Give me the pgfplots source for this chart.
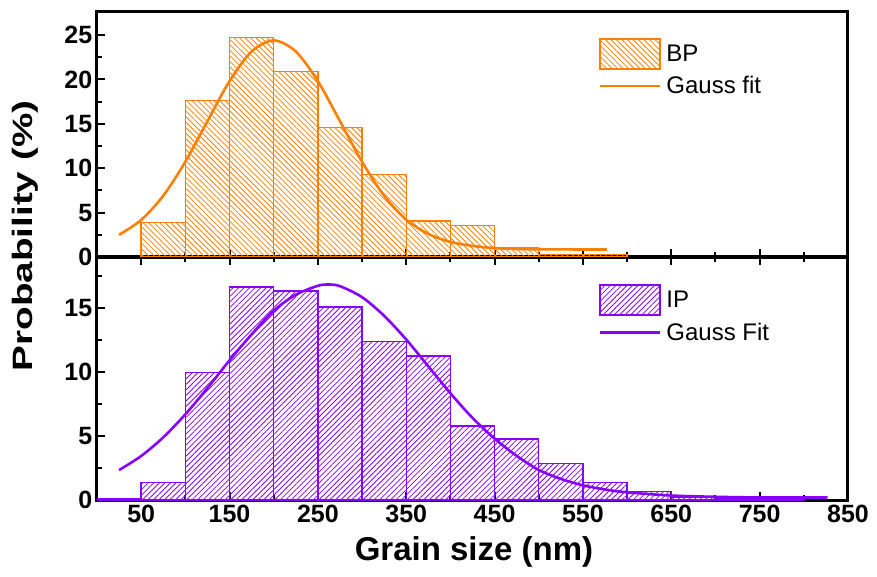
\documentclass[border=0pt]{standalone}
\usepackage{fontspec}
\setmainfont{Liberation Sans}
\usepackage{graphicx}
\usepackage{pgfplots}
\pgfplotsset{compat=1.18}
\usetikzlibrary{patterns.meta}
\definecolor{bporange}{RGB}{255,128,0}
\definecolor{ippurple}{RGB}{136,0,255}

\pgfplotstableread{
x y
50 3.9
100 17.6
150 24.7
200 20.9
250 14.6
300 9.27
350 4.05
400 3.55
450 1.0
500 0.3
550 0.3
600 0.3
}\bphist

\pgfplotstableread{
x y
25 2.5
50 4.17
75 6.9
100 10.73
125 15.3
150 19.81
175 23.15
200 24.4
225 23.15
250 19.81
275 15.3
300 10.73
325 6.9
350 4.2
375 2.6
400 1.7
425 1.25
450 1.0
475 0.9
500 0.87
540 0.85
577 0.85
}\bpfit

\pgfplotstableread{
x y
0 0.1
50 1.38
100 9.95
150 16.67
200 16.35
250 15.1
300 12.37
350 11.25
400 5.8
450 4.77
500 2.86
550 1.38
600 0.65
650 0.2
700 0.1
750 0.1
800 0.1
}\iphist

\pgfplotstableread{
x y
25 2.34
50 3.44
75 4.9
100 6.7
125 8.75
150 10.92
175 12.95
200 14.8
225 16.05
250 16.75
262 16.85
275 16.72
300 15.86
325 14.4
350 12.55
375 10.45
400 8.35
425 6.42
450 4.8
475 3.45
500 2.35
525 1.65
550 1.15
575 0.82
600 0.6
650 0.35
700 0.25
750 0.2
827 0.2
}\ipfit

\pgfplotsset{
  common/.style={
    scale only axis,
    width=751pt,
    xmin=0, xmax=850,
    xtick={50,150,...,850},
    minor xtick={100,200,...,800},
    line width=3pt,
    axis line style={line width=3pt},
    every tick/.style={black, line width=2pt},
    major tick length=8pt, minor tick length=5pt,
    tick align=inside,
    ytick pos=left,
    /pgf/number format/assume math mode=true,
    ticklabel style={font=\fontsize{25}{25}\selectfont\bfseries},
    legend cell align=left,
    legend style={draw=none, fill=none, inner sep=0pt,
      font=\fontsize{24}{28}\selectfont, anchor=north west, row sep=5pt,
      nodes={inner xsep=5pt}},
  },
  histleg/.style={legend image code/.code={\draw[##1, line width=1.6pt] (0pt,-15pt) rectangle (60pt,15pt);}},
  lineleg/.style={legend image code/.code={\draw[##1, line width=2.8pt] (0pt,0pt) -- (60pt,0pt);}},
}

\begin{document}
\begin{tikzpicture}
\useasboundingbox (-97pt,-76pt) rectangle (780pt,500pt);

% bottom panel (IP)
\begin{axis}[common,
  at={(0pt,0pt)}, height=243pt,
  xtick pos=both,
  ymin=0, ymax=19,
  ytick={0,5,10,15},
  minor ytick={2.5,7.5,12.5,17.5},
  xlabel={Grain size (nm)},
  xlabel style={font=\fontsize{33}{33}\selectfont\bfseries,
    at={(axis description cs:0.502,0)}, anchor=center, yshift=-52pt},
  legend style={at={(rel axis cs:0.666,0.894)}},
]
\addplot[ybar interval, draw=ippurple, line width=1.4pt,
  pattern={Lines[angle=45,distance=3.9pt,line width=0.8pt]},
  pattern color=ippurple, histleg]
  table[x=x,y=y] {\iphist};
\addlegendentry{IP}
\addplot[smooth, color=ippurple, line width=2.6pt, lineleg]
  table[x=x,y=y] {\ipfit};
\addlegendentry{Gauss Fit}
\end{axis}

% top panel (BP)
\begin{axis}[common,
  at={(0pt,243pt)}, height=245pt,
  xtick pos=bottom,
  xticklabels={},
  ymin=0, ymax=27.6,
  ytick={0,5,10,15,20,25},
  minor ytick={2.5,7.5,12.5,17.5,22.5},
  legend style={at={(rel axis cs:0.666,0.9)}},
]
\addplot[ybar interval, draw=bporange, line width=1.4pt,
  pattern={Lines[angle=-45,distance=3.9pt,line width=0.8pt]},
  pattern color=bporange, histleg]
  table[x=x,y=y] {\bphist};
\addlegendentry{BP}
\addplot[smooth, color=bporange, line width=2.6pt, lineleg]
  table[x=x,y=y] {\bpfit};
\addlegendentry{Gauss fit}
\end{axis}

\node[rotate=90, font=\fontsize{28}{28}\selectfont\bfseries] at (-72pt,264pt)
  {\scalebox{1.38}[1]{Probability (\%)}};
\end{tikzpicture}
\end{document}
